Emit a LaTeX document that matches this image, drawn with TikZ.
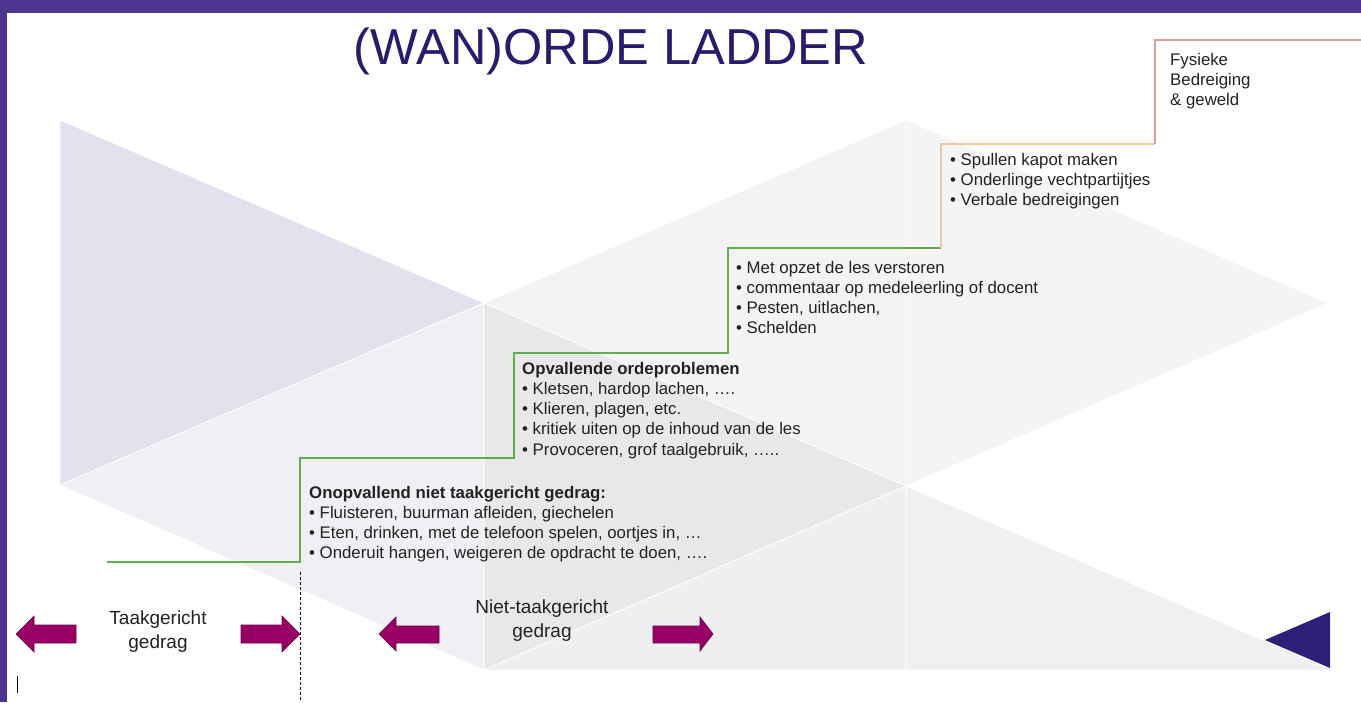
\documentclass[tikz,border=0pt]{standalone}
\usepackage{fontspec}
\setmainfont{Liberation Sans}
\definecolor{framepurple}{HTML}{4B358E}
\definecolor{titleblue}{HTML}{2A1B6E}
\definecolor{lav}{HTML}{E3E1EE}
\definecolor{gA}{HTML}{F0EFF3}
\definecolor{gB}{HTML}{F3F3F4}
\definecolor{gC}{HTML}{E8E8E9}
\definecolor{gD}{HTML}{EFEFF2}
\definecolor{gE}{HTML}{F4F4F4}
\definecolor{gF}{HTML}{F0F0F3}
\definecolor{darktri}{HTML}{2D2078}
\definecolor{arrowfill}{HTML}{990066}
\definecolor{arrowdraw}{HTML}{6B0047}
\definecolor{stairgreen}{HTML}{62AE4E}
\definecolor{stairorange}{HTML}{F2C6A0}
\definecolor{stairred}{HTML}{E39A9A}
\definecolor{textgray}{HTML}{222222}
\begin{document}
\begin{tikzpicture}[x=1pt,y=-1pt,
  bg/.style={draw=white, line width=0.8pt, line join=round},
  stair/.style={line width=1.4pt},
  blockarrow/.style={fill=arrowfill, draw=arrowdraw, line width=0.6pt, line join=miter},
  body/.style={anchor=north west, inner sep=0pt, align=left, font=\fontsize{16.8}{20.2}\selectfont, text=textgray},
  label/.style={anchor=center, inner sep=0pt, align=center, font=\fontsize{19}{24}\selectfont, text=textgray},
  title/.style={anchor=center, inner sep=0pt, font=\fontsize{50.5}{58}\selectfont, text=titleblue}
  ]
\useasboundingbox (0,0) rectangle (1361,702);
\fill[white] (0,0) rectangle (1361,702);
% background triangles
\fill[lav, bg] (60,120) -- (484,303) -- (60,485) -- cycle;
\fill[gA, bg] (60,485) -- (484,303) -- (484,670) -- cycle;
\fill[gB, bg] (484,303) -- (906,120) -- (906,486) -- cycle;
\fill[gC, bg] (484,303) -- (906,486) -- (484,670) -- cycle;
\fill[gD, bg] (484,670) -- (906,486) -- (906,670) -- cycle;
\fill[gE, bg] (906,120) -- (1328,303) -- (906,486) -- cycle;
\fill[gF, bg] (906,486) -- (1332,670) -- (906,670) -- cycle;
\fill[darktri] (1265,640) -- (1330,612) -- (1330,668) -- cycle;
% frame
\fill[framepurple] (0,0) rectangle (1361,13);
\fill[framepurple] (0,0) rectangle (7,702);
% title
\node[title] (title) at (611,51) {(WAN)ORDE LADDER};
% staircase
\draw[stair, stairgreen] (107,562) -| (300,458) -| (514,353) -| (728,248) -- (941,248);
\draw[stair, stairorange] (941,248) -- (941,144) -- (1155,144);
\draw[stair, stairred] (1155,144) -- (1155,40) -- (1361,40);
% dashed divider and cursor
\draw[dashed, dash pattern=on 3pt off 2pt, line width=0.7pt] (300,572) -- (300,702);
\draw[line width=1pt] (17,676) -- (17,693);
% text blocks
\node[body] (b1) at (309,486) {\textbf{Onopvallend niet taakgericht gedrag:}\\
• Fluisteren, buurman afleiden, giechelen\\
• Eten, drinken, met de telefoon spelen, oortjes in, …\\
• Onderuit hangen, weigeren de opdracht te doen, ….};
\node[body] (b2) at (522,362) {\textbf{Opvallende ordeproblemen}\\
• Kletsen, hardop lachen, ….\\
• Klieren, plagen, etc.\\
• kritiek uiten op de inhoud van de les\\
• Provoceren, grof taalgebruik, …..};
\node[body] (b3) at (736,261) {• Met opzet de les verstoren\\
• commentaar op medeleerling of docent\\
• Pesten, uitlachen,\\
• Schelden};
\node[body] (b4) at (950,153) {• Spullen kapot maken\\
• Onderlinge vechtpartijtjes\\
• Verbale bedreigingen};
\node[body] (b5) at (1170,53) {Fysieke\\Bedreiging\\\& geweld};
% bottom labels
\node[label] (l1) at (158,632) {Taakgericht\\gedrag};
\node[label] (l2) at (542,621) {Niet-taakgericht\\gedrag};
% block arrows
\draw[blockarrow] (16,634) -- (34,616) -- (34,625) -- (76,625) -- (76,643) -- (34,643) -- (34,652) -- cycle;
\draw[blockarrow] (300,634) -- (282,616) -- (282,625) -- (241,625) -- (241,643) -- (282,643) -- (282,652) -- cycle;
\draw[blockarrow] (379,634) -- (396,617) -- (396,626) -- (439,626) -- (439,643) -- (396,643) -- (396,651) -- cycle;
\draw[blockarrow] (713,634) -- (700,617) -- (700,626) -- (653,626) -- (653,643) -- (700,643) -- (700,651) -- cycle;
\end{tikzpicture}
\end{document}
